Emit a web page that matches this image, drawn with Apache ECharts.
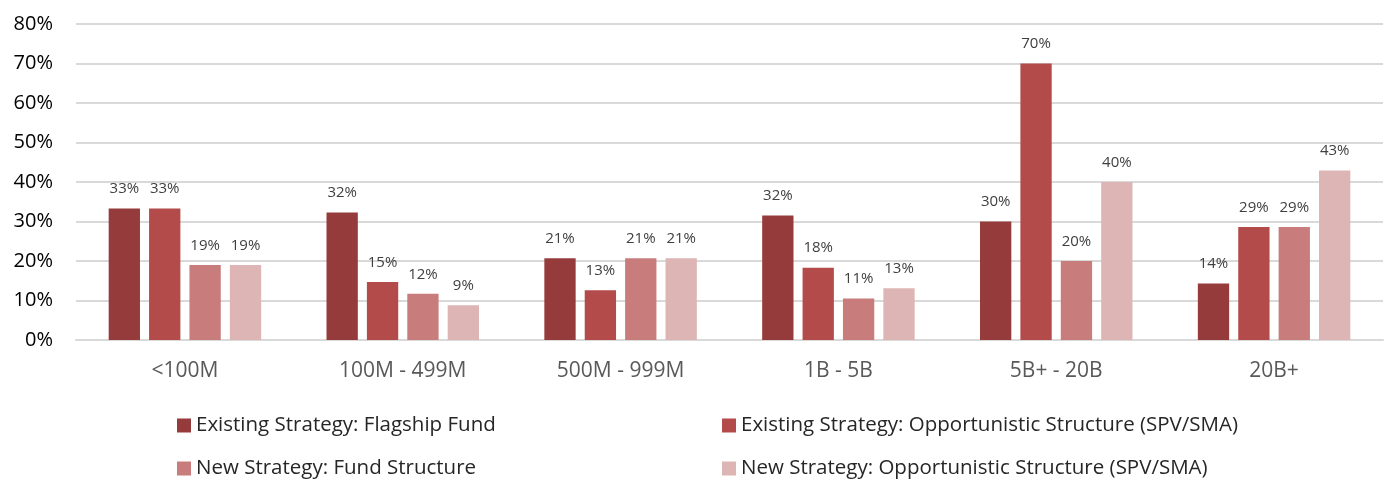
<!DOCTYPE html>
<html>
<head>
<meta charset="utf-8">
<script src="https://cdn.jsdelivr.net/npm/echarts@6/dist/echarts.min.js"></script>
<style>
  html, body { margin: 0; padding: 0; background: #fff; }
  #chart { width: 1385px; height: 481px; }
</style>
</head>
<body>
<div id="chart"></div>
<script>
// categories & series values (percent)
const categories = ['<100M', '100M - 499M', '500M - 999M', '1B - 5B', '5B+ - 20B', '20B+'];
const flagshipFund = [33.3, 32.3, 20.7, 31.5, 30.0, 14.3];
const existingOpp = [33.3, 14.7, 12.6, 18.3, 70.0, 28.6];
const newFund = [19.0, 11.7, 20.7, 10.5, 20.0, 28.6];
const newOpp = [19.0, 8.8, 20.7, 13.1, 40.0, 42.9];
const yTicks = [0, 10, 20, 30, 40, 50, 60, 70, 80];

const names = [
  'Existing Strategy: Flagship Fund',
  'Existing Strategy: Opportunistic Structure (SPV/SMA)',
  'New Strategy: Fund Structure',
  'New Strategy: Opportunistic Structure (SPV/SMA)'
];
const colors = ['#963b3b', '#b34b4a', '#c97c7c', '#deb5b5'];
const values = [flagshipFund, existingOpp, newFund, newOpp];
// legend spots: [left, top]
const legendPos = [[177, 415], [722, 415], [177, 458], [722, 458]];

const font = 'Open Sans, Noto Sans, sans-serif';

const chart = echarts.init(document.getElementById('chart'));

let option = {
  animation: false,
  textStyle: { fontFamily: font },
  grid: { left: 76, right: 2, top: 24, bottom: 141, containLabel: false },
  legend: names.map((n, i) => ({
    data: [n],
    left: legendPos[i][0],
    top: legendPos[i][1],
    padding: 0,
    itemWidth: 14, itemHeight: 14,
    icon: 'rect',
    textStyle: { fontSize: 20.5, color: '#262626', fontFamily: font, padding: [0, 0, 0, 0] }
  })),
  xAxis: {
    type: 'category',
    data: categories,
    axisLine: { show: true, lineStyle: { color: '#d9d9d9', width: 2 } },
    axisTick: { show: false },
    axisLabel: { fontSize: 21, color: '#595959', margin: 21 }
  },
  yAxis: {
    type: 'value',
    min: yTicks[0],
    max: yTicks[yTicks.length - 1],
    interval: 10,
    axisLine: { show: false },
    axisTick: { show: false },
    splitLine: { lineStyle: { color: '#d9d9d9', width: 2 } },
    axisLabel: { fontSize: 20, color: '#000', margin: 23, formatter: v => v + '%' }
  },
  series: names.map((n, i) => ({
    name: n,
    type: 'bar',
    data: values[i],
    barGap: '29%',
    barCategoryGap: '30%',
    itemStyle: { color: colors[i] },
    label: {
      show: true,
      position: 'top',
      distance: 12,
      fontSize: 15,
      color: '#404040',
      formatter: p => Math.round(p.value) + '%'
    }
  }))
};

chart.setOption(option);
</script>
</body>
</html>
